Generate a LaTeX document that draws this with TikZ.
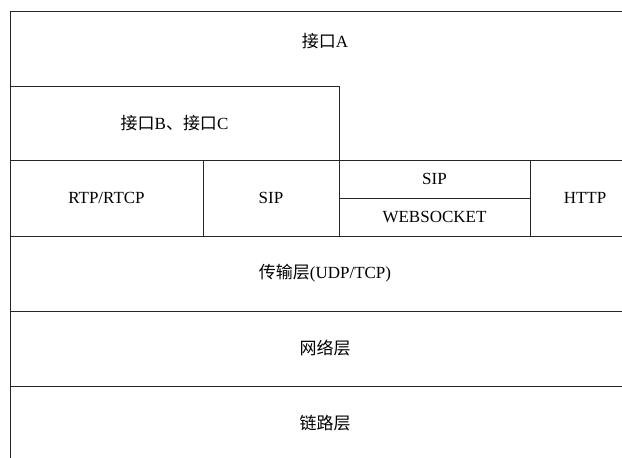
\documentclass[tikz,border=0pt]{standalone}
\usepackage{fontspec}
\setmainfont{Liberation Serif}
\newfontfamily\cjk{Noto Sans CJK SC}
\newcommand{\zh}[1]{{\cjk #1}}
\usetikzlibrary{positioning}
\tikzset{
    x=1pt, y=-1pt,
    layer/.style={draw=black!85, line width=1pt, rectangle, inner sep=0pt,
        outer sep=0pt, font=\fontsize{17}{19}\selectfont},
}

\begin{document}
\begin{tikzpicture}

\useasboundingbox (0,0) rectangle (622,458);
\clip (0,0) rectangle (622,458);

\node[layer, anchor=north west, minimum width=630, minimum height=149,
    label={[anchor=north, yshift=-19pt, font=\fontsize{17}{19}\selectfont]north:\zh{接口}A}] (ifA) at (10,11) {};
\node[layer, minimum width=329, minimum height=74] (ifBC) [below right=75pt and 0pt of ifA.north west] {\zh{接口}B\zh{、接口}C};

\node[layer, minimum width=193, minimum height=76] (rtp) [below right=0pt and 0pt of ifA.south west] {RTP/RTCP};
\node[layer, minimum width=136, minimum height=76] (sip) [right=0pt of rtp] {SIP};
\node[layer, minimum width=191, minimum height=38] (wsip) [below right=0pt and 0pt of sip.north east] {SIP};
\node[layer, minimum width=191, minimum height=38] (ws) [below=0pt of wsip] {WEBSOCKET};
\node[layer, minimum width=110, minimum height=76] (http) [below right=0pt and 0pt of wsip.north east] {HTTP};

\node[layer, minimum width=630, minimum height=75] (trans) [below right=0pt and 0pt of rtp.south west] {\zh{传输层}(UDP/TCP)};
\node[layer, minimum width=630, minimum height=75] (net) [below=0pt of trans] {\zh{网络层}};
\node[layer, minimum width=630, minimum height=75] (link) [below=0pt of net] {\zh{链路层}};

\end{tikzpicture}
\end{document}
